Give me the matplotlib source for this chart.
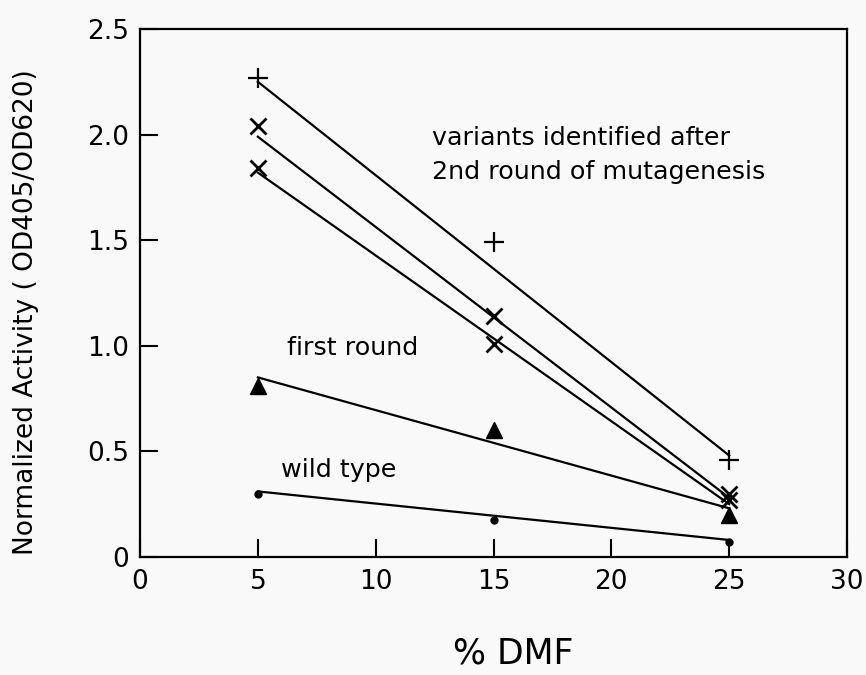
import numpy as np
import matplotlib
matplotlib.use('Agg')
import matplotlib.pyplot as plt

# % DMF
dmf = [5, 15, 25]

# measured activity (OD405/OD620)
plus_pts = [2.27, 1.49, 0.46]
x_upper_pts = [2.04, 1.14, 0.30]
x_lower_pts = [1.84, 1.01, 0.27]
first_round_pts = [0.81, 0.60, 0.20]
wild_type_pts = [0.30, 0.175, 0.07]

# drawn trend lines (values at 5 and 25 % DMF)
fit_x = [5, 25]
plus_fit = [2.25, 0.48]
x_upper_fit = [1.99, 0.28]
x_lower_fit = [1.82, 0.25]
first_round_fit = [0.85, 0.23]
wild_type_fit = [0.31, 0.08]

xticks = [0, 5, 10, 15, 20, 25, 30]
yticks = [0, 0.5, 1.0, 1.5, 2.0, 2.5]
ytick_labels = ['0', '0.5', '1.0', '1.5', '2.0', '2.5']

bg = '#f9f9f9'
plt.rcParams['font.family'] = 'DejaVu Sans'

fig = plt.figure(figsize=(8.66, 6.75), dpi=100, facecolor=bg)
ax = fig.add_axes([0.1617, 0.175, 0.8164, 0.782])
ax.set_facecolor(bg)

lw = 1.6
for fit in [plus_fit, x_upper_fit, x_lower_fit, first_round_fit, wild_type_fit]:
    ax.plot(fit_x, fit, color='black', lw=lw)

ax.plot(dmf, plus_pts, '+', color='black', ms=14, mew=1.6)
ax.plot(dmf, x_upper_pts, 'x', color='black', ms=12, mew=2)
ax.plot(dmf, x_lower_pts, 'x', color='black', ms=12, mew=2)
ax.plot(dmf, first_round_pts, '^', color='black', ms=12)
ax.plot(dmf, wild_type_pts, 'o', color='black', ms=5)

ax.set_xlim(0, 30)
ax.set_ylim(0, 2.5)
ax.set_xticks(xticks)
ax.set_yticks(yticks)
ax.set_yticklabels(ytick_labels)
ax.tick_params(direction='in', length=13, width=1.5, labelsize=19)
ax.tick_params(axis='x', pad=9)
ax.tick_params(axis='y', pad=8)
for sp in ax.spines.values():
    sp.set_linewidth(1.6)

ax.text(12.4, 1.986, 'variants identified after', fontsize=18.3, va='center')
ax.text(12.4, 1.825, '2nd round of mutagenesis', fontsize=18.3, va='center')
ax.text(6.24, 0.99, 'first round', fontsize=18.3, va='center')
ax.text(5.98, 0.41, 'wild type', fontsize=18.3, va='center')

fig.text(26 / 866, 1 - 312 / 675, 'Normalized Activity ( OD405/OD620)',
         rotation=90, fontsize=19, ha='center', va='center')
fig.text(513 / 866, 1 - 654 / 675, '% DMF', fontsize=25, ha='center', va='center')

fig.savefig('out.png', dpi=100, facecolor=bg)
